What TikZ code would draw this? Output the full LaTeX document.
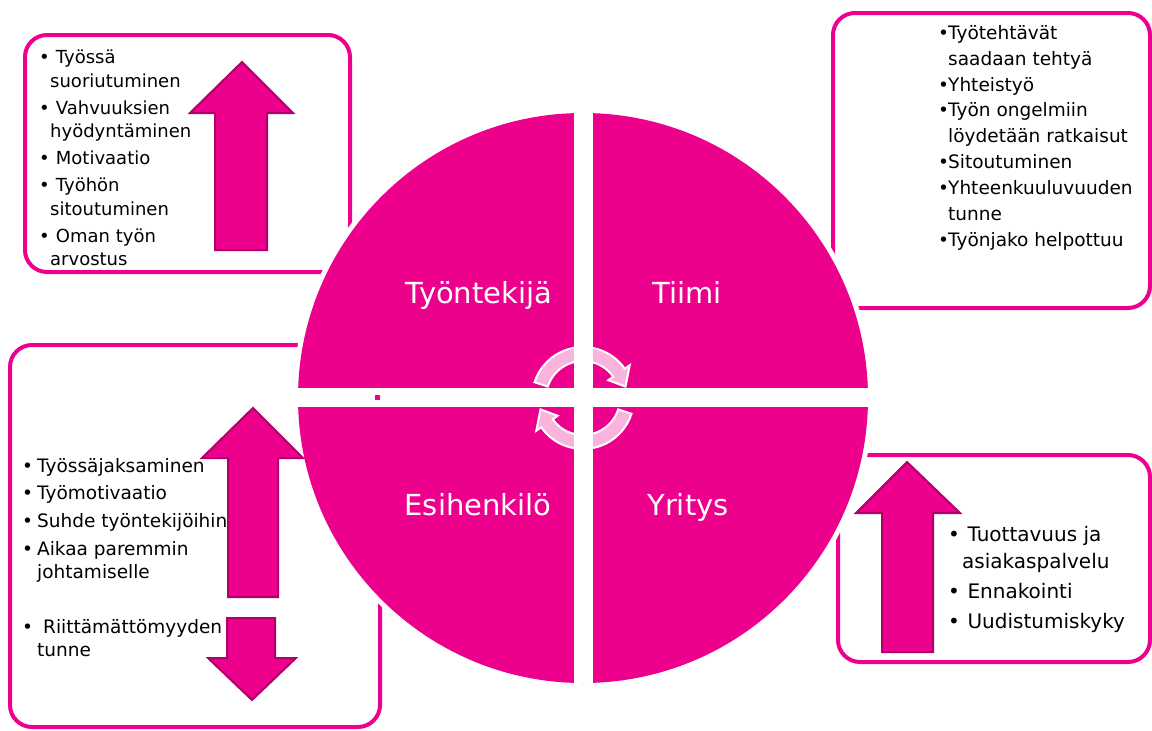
\documentclass[tikz,border=0pt]{standalone}
\usepackage{fontspec}
\setmainfont{DejaVu Sans}
\definecolor{vpink}{RGB}{236,0,140}
\definecolor{vdark}{RGB}{176,0,106}
\newcommand{\lbul}[1]{\makebox[#1][l]{\textbullet}}

\begin{document}
\begin{tikzpicture}[x=1pt, y=-1pt]
        \tikzstyle{box} = [draw=vpink, line width=4pt, rounded corners=22pt]
        \tikzstyle{bigarrow} = [fill=vpink, draw=vdark, line width=2pt, line join=miter]
        \tikzstyle{lst} = [anchor=north west, inner sep=0pt, align=left]
        \tikzstyle{qlabel} = [anchor=base, inner sep=0pt, text=white, font=\fontsize{29}{34}\selectfont]
        \tikzstyle{spin} = [fill=white, fill opacity=0.7, draw=white, line width=2pt]
        \useasboundingbox (0,0) rectangle (1152,731);
        \node [lst, font=\fontsize{18}{23.5}\selectfont] (tyotxt) at (39,50) {\lbul{11pt}\ Työssä\\\hspace*{11pt}suoriutuminen\\[3.5pt]\lbul{11pt}\ Vahvuuksien\\\hspace*{11pt}hyödyntäminen\\[3.5pt]\lbul{11pt}\ Motivaatio\\[3.5pt]\lbul{11pt}\ Työhön\\\hspace*{11pt}sitoutuminen\\[3.5pt]\lbul{11pt}\ Oman työn\\\hspace*{11pt}arvostus};
        \node [lst, font=\fontsize{18.5}{25.9}\selectfont] (tiimitxt) at (938,25) {\lbul{10pt}Työtehtävät\\\hspace*{10pt}saadaan tehtyä\\\lbul{10pt}Yhteistyö\\\lbul{10pt}Työn ongelmiin\\\hspace*{10pt}löydetään ratkaisut\\\lbul{10pt}Sitoutuminen\\\lbul{10pt}Yhteenkuuluvuuden\\\hspace*{10pt}tunne\\\lbul{10pt}Työnjako helpottuu};
        \node [lst, font=\fontsize{18.5}{23}\selectfont] (esitxt) at (22,458) {\lbul{15pt}Työssäjaksaminen\\[4.7pt]\lbul{15pt}Työmotivaatio\\[4.7pt]\lbul{15pt}Suhde työntekijöihin\\[4.7pt]\lbul{15pt}Aikaa paremmin\\\hspace*{15pt}johtamiselle\\[32pt]\lbul{15pt}\hspace{6pt}Riittämättömyyden\\\hspace*{15pt}tunne};
        \node [lst, font=\fontsize{20}{27}\selectfont] (yrtxt) at (948,526) {\lbul{13pt}\ Tuottavuus ja\\\hspace*{14pt}asiakaspalvelu\\[3pt]\lbul{13pt}\ Ennakointi\\[3pt]\lbul{13pt}\ Uudistumiskyky};
        \draw [box] (25,35) rectangle (350,272);
        \draw [box] (833,13) rectangle (1150,308);
        \draw [box] (10,345) rectangle (380,727);
        \draw [box] (838,455) rectangle (1150,662);
        \fill [white] (583,398) circle (290);
        \draw [bigarrow] (242,62) -- (293,113) -- (267,113) -- (267,250) -- (215,250) -- (215,113) -- (190,113) -- cycle;
        \draw [bigarrow] (253,408) -- (303,458) -- (278,458) -- (278,597) -- (228,597) -- (228,458) -- (202,458) -- cycle;
        \draw [bigarrow] (227,618) -- (275,618) -- (275,658) -- (296,658) -- (252,700) -- (208,658) -- (227,658) -- cycle;
        \draw [bigarrow] (907,462) -- (960,513) -- (933,513) -- (933,652) -- (882,652) -- (882,513) -- (856,513) -- cycle;
        \fill [vpink] (583,398) circle (285);
        \begin{scope}
            \clip (583,398) circle (285);
            \fill [white] (574,100) rectangle (593,700);
            \fill [white] (280,388) rectangle (880,407);
        \end{scope}
        \fill [vpink] (375,395) rectangle (380,400);
        \node [qlabel] (tyontekija) at (479,303) {Työntekijä};
        \node [qlabel] (tiimi) at (687,303) {Tiimi};
        \node [qlabel] (esihenkilo) at (478,515) {Esihenkilö};
        \node [qlabel] (yritys) at (688,515) {Yritys};
        \begin{scope}[shift={(583,398)}]
            \draw [spin] (198:51) arc [start angle=198, end angle=325, radius=51] -- (325:57) -- (345:44) -- (325:31) -- (325:37) arc [start angle=325, end angle=198, radius=37] -- cycle;
            \draw [spin] (18:51) arc [start angle=18, end angle=145, radius=51] -- (145:57) -- (165:44) -- (145:31) -- (145:37) arc [start angle=145, end angle=18, radius=37] -- cycle;
        \end{scope}
\end{tikzpicture}
\end{document}
